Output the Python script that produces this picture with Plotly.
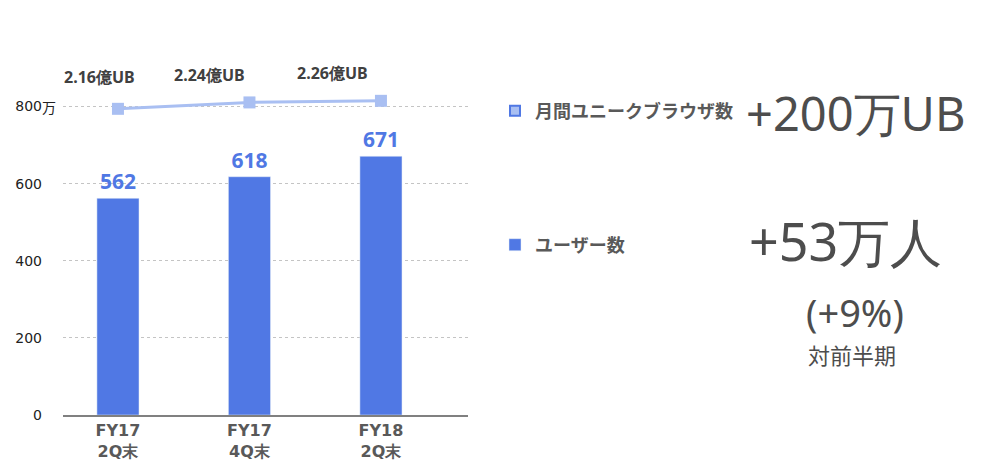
import plotly.graph_objects as go

categories = ["FY17<br>2Q末", "FY17<br>4Q末", "FY18<br>2Q末"]
users = [562, 618, 671]           # ユーザー数 (万)
ub = [2.16, 2.24, 2.26]           # 月間ユニークブラウザ数 (億UB)
ub_labels = ["2.16億UB", "2.24億UB", "2.26億UB"]
y_ticks = [0, 200, 400, 600, 800]
y_ticktext = ["0", "200", "400", "600", "800"]

# label offsets (px) for the UB labels, as placed in the original slide
ub_label_dx = [-18, -40, -48]
ub_label_dy = [32, 27, 28]

num_font = "Noto Sans, sans-serif"
jp = "Noto Sans CJK JP"
bar_color = "#5078E4"
line_color = "#A9BFF2"
gray = "#595959"

# plot area in page pixels (page has an 8px body margin)
PL, PR, PT, PB = 63, 468, 68, 415


def px(x):
    return (x - PL) / (PR - PL)


def py(y):
    return (PB - y) / (PB - PT)


fig = go.Figure()

fig.add_trace(go.Bar(
    x=list(range(len(categories))), y=users, width=0.32,
    marker=dict(color=bar_color), name="ユーザー数",
    text=[str(v) for v in users], textposition="outside", cliponaxis=False,
    textfont=dict(family=num_font, size=21, color=bar_color, weight="bold"),
    legend="legend2",
))

fig.add_trace(go.Scatter(
    x=list(range(len(categories))), y=ub, yaxis="y2", mode="lines+markers",
    line=dict(color=line_color, width=3),
    marker=dict(symbol="square", size=12, color=line_color),
    showlegend=False, cliponaxis=False,
))

# legend-only marker for the UB series
fig.add_trace(go.Scatter(
    x=[None], y=[None], mode="markers", name="月間ユニークブラウザ数",
    marker=dict(symbol="square", size=10, color=line_color,
                line=dict(color=bar_color, width=2)),
    legend="legend",
))

for i, (v, lab) in enumerate(zip(ub, ub_labels)):
    fig.add_annotation(x=i, y=v, xref="x", yref="y2", text=lab, showarrow=False,
                       xshift=ub_label_dx[i], yshift=ub_label_dy[i],
                       font=dict(family=num_font, size=16, color="#404040", weight="bold"))

fig.update_layout(
    width=986, height=472,
    margin=dict(l=PL - 8, r=986 - PR + 8, t=PT - 8, b=472 - PB + 8),
    plot_bgcolor="white", paper_bgcolor="white",
    font=dict(family=jp, color=gray),
    xaxis=dict(
        range=[-0.418, 2.662], tickmode="array",
        tickvals=list(range(len(categories))), ticktext=categories,
        tickfont=dict(family="Verdana, DejaVu Sans", size=16, color=gray, weight="bold"),
        showline=True, linecolor="#808080", linewidth=2,
        showgrid=False, ticks="", fixedrange=True, automargin=False,
    ),
    yaxis=dict(
        range=[0, 900], tickmode="array", tickvals=y_ticks, ticktext=y_ticktext,
        tickfont=dict(family="DejaVu Sans", size=14, color="#222222"),
        showgrid=True, gridcolor="#C4C4C4", griddash="dot", gridwidth=1,
        zeroline=False, ticklabelstandoff=20, automargin=False,
    ),
    yaxis2=dict(
        range=[-1.665, 2.67], overlaying="y", side="right", visible=False,
    ),
    legend=dict(
        x=px(495), y=py(111), xanchor="left", yanchor="middle",
        font=dict(family=jp, size=18, color=gray, weight="bold"),
        bgcolor="rgba(0,0,0,0)", itemwidth=30,
    ),
    legend2=dict(
        x=px(495), y=py(245), xanchor="left", yanchor="middle",
        font=dict(family=jp, size=18, color=gray, weight="bold"),
        bgcolor="rgba(0,0,0,0)", itemwidth=30,
    ),
    showlegend=True,
)

# "万" suffix after the 800 tick
fig.add_annotation(xref="paper", yref="y", x=0, y=800, xanchor="left",
                   xshift=-23, text="万", showarrow=False,
                   font=dict(family=jp, size=14, color="#222222"))

# summary figures on the right
big = "#4d4d4d"
summary = [
    ("+200万UB", 855, 113, num_font, 47),
    ("+53万人", 845, 240, num_font, 52),
    ("(+9%)", 855, 312, num_font, 38),
    ("対前半期", 852, 354, jp, 22),
]
for text, sx, sy, fam, size in summary:
    fig.add_annotation(xref="paper", yref="paper", x=px(sx), y=py(sy),
                       xanchor="center", yanchor="middle",
                       text=text, showarrow=False,
                       font=dict(family=fam, size=size, color=big))

fig.write_html("out.html")
